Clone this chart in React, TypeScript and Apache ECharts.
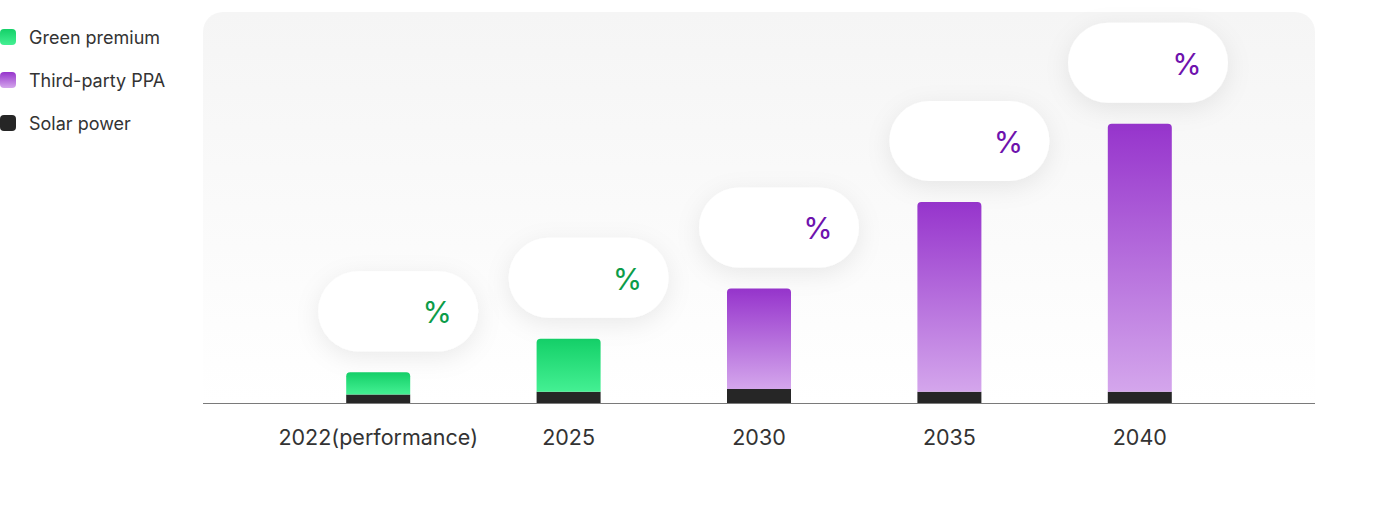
import React, { useEffect, useRef } from "react";
import * as echarts from "echarts";

const categories = ["2022(performance)", "2025", "2030", "2035", "2040"];
const solarPower = [3, 4, 5, 4, 4];
const greenPremium = [8, 19, 0, 0, 0];
const thirdPartyPPA = [0, 0, 36, 68, 96];
const bubbleLabels = ["%", "%", "%", "%", "%"];

const FONT = "Inter, 'Noto Sans', sans-serif";

export default function App() {
  const ref = useRef<HTMLDivElement>(null);
  useEffect(() => {
    document.body.style.margin = "0";
    if (!ref.current) return;
    const chart = echarts.init(ref.current, undefined, { renderer: "svg" });
    const totals = categories.map((_, i) => solarPower[i] + greenPremium[i] + thirdPartyPPA[i]);
    const greenGrad = new echarts.graphic.LinearGradient(0, 0, 0, 1, [
      { offset: 0, color: "#14d068" },
      { offset: 1, color: "#44f093" },
    ]);
    const purpleGrad = new echarts.graphic.LinearGradient(0, 0, 0, 1, [
      { offset: 0, color: "#9634cc" },
      { offset: 1, color: "#d4a6ec" },
    ]);
    chart.setOption({
      animation: false,
      textStyle: { fontFamily: FONT },
      legend: {
        orient: "vertical",
        left: 0,
        top: 28,
        padding: 0,
        itemWidth: 16,
        itemHeight: 16,
        itemGap: 25,
        icon: "roundRect",
        data: ["Green premium", "Third-party PPA", "Solar power"],
        textStyle: { fontSize: 18, color: "#333", fontFamily: FONT, padding: [0, 0, 0, 8] },
      },
      graphic: [
        {
          type: "rect",
          z: -10,
          silent: true,
          shape: { x: 203, y: 12, width: 1112, height: 391, r: [20, 20, 0, 0] },
          style: {
            fill: new echarts.graphic.LinearGradient(0, 0, 0, 1, [
              { offset: 0, color: "#f5f5f5" },
              { offset: 1, color: "#ffffff" },
            ]),
          },
        },
        {
          type: "line",
          z: 10,
          silent: true,
          shape: { x1: 203, y1: 403.5, x2: 1315, y2: 403.5 },
          style: { stroke: "#7a7a7a", lineWidth: 1 },
        },
      ],
      grid: { left: 283, right: 159, top: 12, bottom: 123 },
      xAxis: {
        type: "category",
        data: categories,
        axisLine: { show: false },
        axisTick: { show: false },
        axisLabel: { fontSize: 21.5, color: "#333", margin: 23, interval: 0, fontFamily: FONT },
      },
      yAxis: {
        type: "value",
        min: 0,
        max: 140,
        show: false,
        splitLine: { show: false },
      },
      series: [
        {
          name: "Solar power",
          type: "bar",
          stack: "total",
          barWidth: 64,
          data: solarPower,
          itemStyle: { color: "#262626" },
        },
        {
          name: "Green premium",
          type: "bar",
          stack: "total",
          barWidth: 64,
          data: greenPremium,
          itemStyle: { color: greenGrad, borderRadius: [4, 4, 0, 0] },
        },
        {
          name: "Third-party PPA",
          type: "bar",
          stack: "total",
          barWidth: 64,
          data: thirdPartyPPA,
          itemStyle: { color: purpleGrad, borderRadius: [4, 4, 0, 0] },
        },
        {
          type: "custom",
          name: "bubbles",
          clip: false,
          z: 20,
          data: totals.map((t, i) => [i, t]),
          encode: { x: 0, y: 1 },
          renderItem: (params: any, api: any) => {
            const i = api.value(0);
            const pt = api.coord([i, api.value(1)]);
            const w = 160;
            const h = 80;
            let cx = pt[0] + 20;
            if (cx + w / 2 > 1228) cx = 1228 - w / 2;
            const cy = pt[1] - 21 - h / 2;
            const isGreen = greenPremium[i] > thirdPartyPPA[i];
            return {
              type: "group",
              children: [
                {
                  type: "rect",
                  shape: { x: cx - w / 2, y: cy - h / 2, width: w, height: h, r: 40 },
                  style: {
                    fill: "#ffffff",
                    shadowBlur: 24,
                    shadowColor: "rgba(0,0,0,0.08)",
                    shadowOffsetY: 6,
                  },
                },
                {
                  type: "text",
                  x: cx + 39,
                  y: cy + 1,
                  style: {
                    text: bubbleLabels[i],
                    fontSize: 30,
                    fontFamily: FONT,
                    fill: isGreen ? "#0c9c49" : "#6e12ad",
                    align: "center",
                    verticalAlign: "middle",
                  },
                },
              ],
            };
          },
        },
      ],
    });
    return () => chart.dispose();
  }, []);
  return <div ref={ref} style={{ width: 1394, height: 526 }} />;
}
